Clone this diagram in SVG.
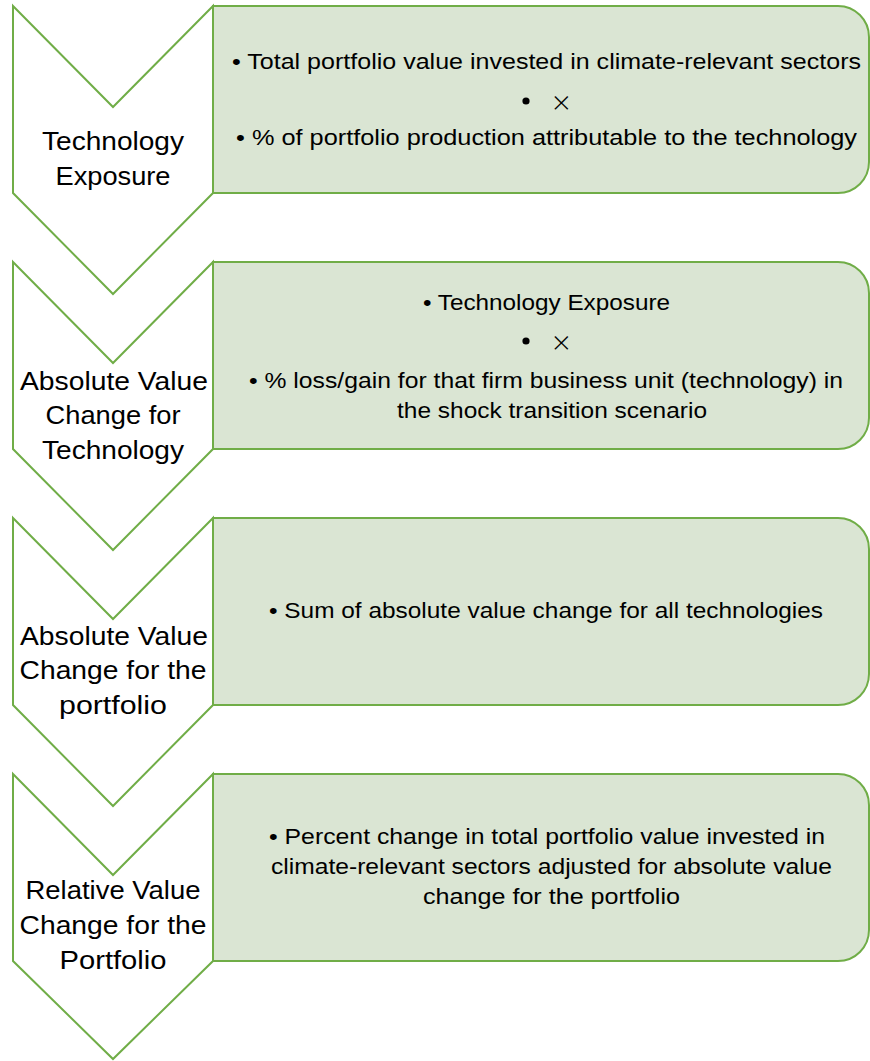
<svg xmlns="http://www.w3.org/2000/svg" width="870" height="1061" viewBox="0 0 870 1061">
  <style>
    .chev { fill: #FFFFFF; stroke: #70AD47; stroke-width: 2; stroke-linejoin: miter; }
    .box { fill: #DAE5D3; stroke: #70AD47; stroke-width: 2; }
    .lbl { font-family: "Liberation Sans", Arial, sans-serif; font-size: 26.5px; fill: #000000; text-anchor: middle; }
    .txt { font-family: "Liberation Sans", Arial, sans-serif; font-size: 21.5px; fill: #000000; }
    .sym { font-family: Inter, "Liberation Sans", sans-serif; font-weight: 200; font-size: 32px; fill: #000000; }
  </style>

  <!-- Step 1 -->
  <g id="step1">
    <path class="box" d="M213,6 H838 A31,31 0 0 1 869,37 V162 A31,31 0 0 1 838,193 H213 Z"/>
    <path class="chev" d="M13,6 L113,107 L213,6 L213,193 L113,294 L13,193 Z"/>
    <text class="lbl" x="113" y="150" textLength="142" lengthAdjust="spacingAndGlyphs">Technology</text>
    <text class="lbl" x="113" y="185" textLength="115" lengthAdjust="spacingAndGlyphs">Exposure</text>
    <text class="txt" x="232" y="69" textLength="629" lengthAdjust="spacingAndGlyphs">• Total portfolio value invested in climate-relevant sectors</text>
    <circle cx="526" cy="101" r="3.6"/>
    <text class="sym" x="551" y="112">×</text>
    <text class="txt" x="236" y="145" textLength="621" lengthAdjust="spacingAndGlyphs">• % of portfolio production attributable to the technology</text>
  </g>

  <!-- Step 2 -->
  <g id="step2">
    <path class="box" d="M213,262 H838 A31,31 0 0 1 869,293 V418 A31,31 0 0 1 838,449 H213 Z"/>
    <path class="chev" d="M13,262 L113,363 L213,262 L213,449 L113,550 L13,449 Z"/>
    <text class="lbl" x="114" y="390" textLength="188" lengthAdjust="spacingAndGlyphs">Absolute Value</text>
    <text class="lbl" x="113" y="424" textLength="135" lengthAdjust="spacingAndGlyphs">Change for</text>
    <text class="lbl" x="113" y="459" textLength="142" lengthAdjust="spacingAndGlyphs">Technology</text>
    <text class="txt" x="423" y="310" textLength="247" lengthAdjust="spacingAndGlyphs">• Technology Exposure</text>
    <circle cx="526" cy="341" r="3.6"/>
    <text class="sym" x="551" y="352">×</text>
    <text class="txt" x="249" y="388" textLength="594" lengthAdjust="spacingAndGlyphs">• % loss/gain for that firm business unit (technology) in</text>
    <text class="txt" x="397" y="418" textLength="310" lengthAdjust="spacingAndGlyphs">the shock transition scenario</text>
  </g>

  <!-- Step 3 -->
  <g id="step3">
    <path class="box" d="M213,518 H838 A31,31 0 0 1 869,549 V674 A31,31 0 0 1 838,705 H213 Z"/>
    <path class="chev" d="M13,518 L113,619 L213,518 L213,705 L113,806 L13,705 Z"/>
    <text class="lbl" x="114" y="645" textLength="188" lengthAdjust="spacingAndGlyphs">Absolute Value</text>
    <text class="lbl" x="113" y="679" textLength="187" lengthAdjust="spacingAndGlyphs">Change for the</text>
    <text class="lbl" x="113" y="714" textLength="108" lengthAdjust="spacingAndGlyphs">portfolio</text>
    <text class="txt" x="269" y="618" textLength="554" lengthAdjust="spacingAndGlyphs">• Sum of absolute value change for all technologies</text>
  </g>

  <!-- Step 4 -->
  <g id="step4">
    <path class="box" d="M213,774 H838 A31,31 0 0 1 869,805 V930 A31,31 0 0 1 838,961 H213 Z"/>
    <path class="chev" d="M13,774 L113,875 L213,774 L213,961 L113,1059 L13,961 Z"/>
    <text class="lbl" x="113" y="899" textLength="175" lengthAdjust="spacingAndGlyphs">Relative Value</text>
    <text class="lbl" x="113" y="934" textLength="187" lengthAdjust="spacingAndGlyphs">Change for the</text>
    <text class="lbl" x="113" y="969" textLength="107" lengthAdjust="spacingAndGlyphs">Portfolio</text>
    <text class="txt" x="269" y="844" textLength="556" lengthAdjust="spacingAndGlyphs">• Percent change in total portfolio value invested in</text>
    <text class="txt" x="271" y="874" textLength="561" lengthAdjust="spacingAndGlyphs">climate-relevant sectors adjusted for absolute value</text>
    <text class="txt" x="423" y="904" textLength="257" lengthAdjust="spacingAndGlyphs">change for the portfolio</text>
  </g>
</svg>
